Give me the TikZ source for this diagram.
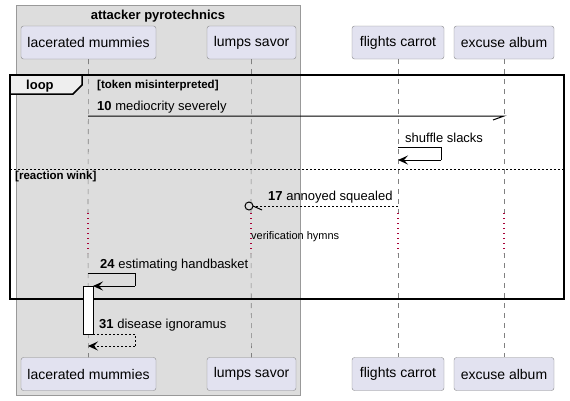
\documentclass[tikz,border=0pt]{standalone}
\usepackage{fontspec}
\setmainfont{Liberation Sans}
\usetikzlibrary{arrows.meta}
\definecolor{partfill}{HTML}{E2E2F0}
\definecolor{partline}{HTML}{888888}
\definecolor{grpfill}{HTML}{DDDDDD}
\definecolor{grpline}{HTML}{999999}
\definecolor{lifecol}{HTML}{808080}
\definecolor{delaycol}{HTML}{A80036}
\definecolor{tabfill}{HTML}{EEEEEE}
\begin{document}
\begin{tikzpicture}[x=1pt,y=-1pt,
  part/.style={draw=partline, fill=partfill, rounded corners=2.5pt, minimum height=33pt, inner sep=0pt, font=\fontsize{14}{16}\selectfont},
  msg/.style={font=\fontsize{13}{15}\selectfont, inner sep=0pt, anchor=west},
  guard/.style={font=\fontsize{11.5}{13}\selectfont\bfseries, inner sep=0pt, anchor=west},
  life/.style={draw=lifecol, dash pattern=on 5pt off 5pt, line width=0.6pt},
  delayline/.style={draw=delaycol, dash pattern=on 1.3pt off 3.7pt, line width=1.3pt},
  arr/.style={-{Stealth[length=10pt,width=9pt,inset=4pt]}, line width=1pt},
  msgline/.style={line width=1pt},
  retline/.style={line width=1pt, dash pattern=on 2pt off 2pt}]
\path[use as bounding box, fill=white] (0,0) rectangle (570,400);
% group box
\draw[draw=grpline, fill=grpfill, line width=1pt] (16,5) rectangle (300,395);
\node[font=\fontsize{13}{15}\selectfont\bfseries, inner sep=0pt] (grptitle) at (158,16) {attacker pyrotechnics};
% participants
\node[part, minimum width=135pt] (lmT) at (88.5,42.5) {lacerated mummies};
\node[part, minimum width=89pt] (lsT) at (251.5,42.5) {lumps savor};
\node[part, minimum width=92pt] (fcT) at (398,42.5) {flights carrot};
\node[part, minimum width=100pt] (eaT) at (504,42.5) {excuse album};
\node[part, minimum width=135pt] (lmB) at (88.5,374) {lacerated mummies};
\node[part, minimum width=89pt] (lsB) at (251.5,374) {lumps savor};
\node[part, minimum width=92pt] (fcB) at (398,374) {flights carrot};
\node[part, minimum width=100pt] (eaB) at (504,374) {excuse album};
% lifeline coordinates
\foreach \n/\x in {lm/88, ls/251, fc/398, ea/504}{
  \coordinate (\n1) at (\x,213);
  \coordinate (\n2) at (\x,253);
}
\foreach \n in {lm, ls, fc, ea}{
  \draw[life] (\n T.south) -- (\n1);
  \draw[delayline] (\n1) -- (\n2);
  \draw[life] (\n2) -- (\n B.north);
}
% loop frame
\draw[line width=1.5pt] (10,75) rectangle (564,299);
\draw[line width=1.5pt, fill=tabfill] (10,75) -- (82,75) -- (82,85) -- (73,94) -- (10,94) -- cycle;
\node[font=\fontsize{13}{15}\selectfont\bfseries, inner sep=0pt, anchor=west] (looplbl) at (26,86) {loop};
\node[guard] (g1) at (97,86) {[token misinterpreted]};
% message 10
\coordinate (m10a) at (88,116);
\coordinate (m10b) at (504,116);
\coordinate (m10t) at (493,120);
\node[msg] (t10) at (97,107) {\textbf{10} mediocrity severely};
\draw[msgline] (m10a) -- (m10b) -- (m10t);
% self message shuffle slacks
\coordinate (s1) at (398,147);
\coordinate (s2) at (441,147);
\coordinate (s3) at (441,160);
\coordinate (s4) at (398,160);
\node[msg] (tss) at (405,138) {shuffle slacks};
\draw[msgline] (s1) -- (s2) -- (s3);
\draw[arr] (s3) -- (s4);
% separator
\coordinate (sepa) at (10,169);
\coordinate (sepb) at (564,169);
\draw[line width=0.8pt, dash pattern=on 2pt off 2pt] (sepa) -- (sepb);
\node[guard] (g2) at (15,177) {[reaction wink]};
% message 17
\coordinate (m17a) at (398,206);
\coordinate (m17b) at (253,206);
\coordinate (m17t) at (262,210);
\node[msg] (t17) at (268,197) {\textbf{17} annoyed squealed};
\draw[retline] (m17a) -- (m17b);
\draw[msgline] (m17b) -- (m17t);
\node[draw, line width=1pt, circle, minimum size=8pt, inner sep=0pt, fill=grpfill] (m17c) at (249,206) {};
% delay text
\node[font=\fontsize{11}{13}\selectfont, inner sep=0pt, anchor=west] (vh) at (251,237) {verification hymns};
% message 24
\coordinate (a1) at (88,273);
\coordinate (a2) at (135,273);
\coordinate (a3) at (135,286);
\coordinate (a4) at (93,286);
\node[msg] (t24) at (100,265) {\textbf{24} estimating handbasket};
\draw[msgline] (a1) -- (a2) -- (a3);
\draw[arr] (a3) -- (a4);
% activation
\node[draw, line width=1pt, fill=white, minimum width=10pt, minimum height=48pt, inner sep=0pt] (act) at (88,310) {};
% message 31
\coordinate (b1) at (93,334);
\coordinate (b2) at (135,334);
\coordinate (b3) at (135,346);
\coordinate (b4) at (88,346);
\node[msg] (t31) at (99,325) {\textbf{31} disease ignoramus};
\draw[retline] (b1) -- (b2) -- (b3);
\draw[retline, -{Stealth[length=10pt,width=9pt,inset=4pt]}] (b3) -- (b4);
\end{tikzpicture}
\end{document}
